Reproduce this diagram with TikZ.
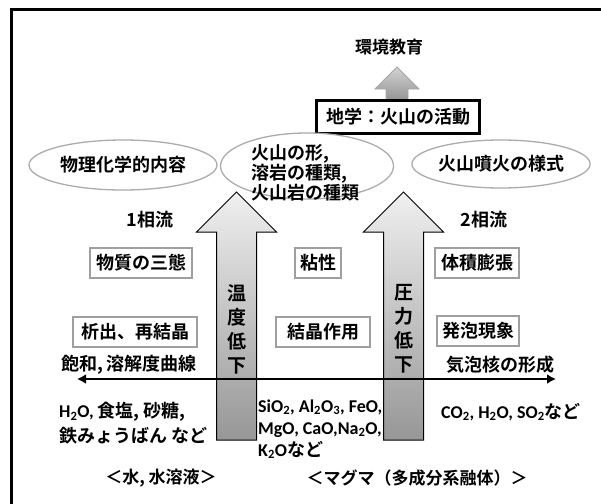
\documentclass[tikz,border=0pt]{standalone}
\usepackage{fontspec}
\setmainfont{Noto Sans CJK JP}[BoldFont={Noto Sans CJK JP Bold}]
\newfontfamily\chemf{Carlito}
\usetikzlibrary{shapes.geometric,arrows.meta}
\newcommand\jpbig{\bfseries\fontsize{18}{20}\selectfont}
\newcommand\jpmid{\bfseries\fontsize{17}{20}\selectfont}
\newcommand\jpvert{\bfseries\fontsize{19}{24}\selectfont}
\newcommand\chemsz{\bfseries\fontsize{18}{22}\selectfont}
\newcommand\ch[1]{{\chemf\bfseries #1}}
\begin{document}
\begin{tikzpicture}[x=1pt,y=-1pt,font=\jpbig,
  every node/.style={inner sep=0pt},
  bx/.style={draw=gray!75,line width=1.3pt,minimum height=30pt,fill=white},
  ell/.style={ellipse,draw=gray!65,line width=1.3pt,fill=white},
  thickbox/.style={draw=black,line width=2.8pt,fill=white,minimum width=163pt,minimum height=33pt},
  bigarrow/.style={draw=black,line width=1pt,top color=gray!12,bottom color=gray!82},
  toparrow/.style={draw=gray!70,line width=0.8pt,top color=gray!35,bottom color=gray!85},
  dblarrow/.style={line width=2.8pt,{Latex[length=9pt,width=10pt]}-{Latex[length=9pt,width=10pt]}}]
\useasboundingbox (0,0) rectangle (601,503);
\fill[white] (0,0) rectangle (601,503);
% frame
\draw[line width=3pt] (11,520) -- (11,9.5) -- (620,9.5);
% top
\node[font=\jpmid] (env) at (389,47) {環境教育};
\path[toparrow] (386,101) -- (386,89) -- (375,89) -- (397,67) -- (419,89) -- (408,89) -- (408,101) -- cycle;
\node[thickbox] (geo) at (398,117) {地学：火山の活動};
% ellipses
\node[ell,minimum width=188pt,minimum height=50pt] (e1) at (123,165) {物理化学的内容};
\node[ell,minimum width=173pt,minimum height=66pt] (e2) at (307,166) {};
\node[align=left,font=\jpbig] (e2t) at (305,173) {火山の形,\\溶岩の種類,\\火山岩の種類};
\node[ell,minimum width=178pt,minimum height=48pt] (e3) at (501,164) {火山噴火の様式};
% phase labels
\node (p1) at (150,220) {1相流};
\node (p2) at (484,220) {2相流};
% big arrows
\path[bigarrow] (216.5,440) -- (216.5,232) -- (196.5,232) -- (236.5,192) -- (276.5,232) -- (256.5,232) -- (256.5,440) -- cycle;
\path[bigarrow] (383.5,440) -- (383.5,232) -- (363.5,232) -- (403.5,192) -- (443.5,232) -- (423.5,232) -- (423.5,440) -- cycle;
\node[align=center,font=\jpvert] (t1) at (236.5,329) {温\\度\\低\\下};
\node[align=center,font=\jpvert] (t2) at (403.5,329) {圧\\力\\低\\下};
% boxes
\node[bx,minimum width=102pt] (b1) at (141,263) {物質の三態};
\node[bx,minimum width=46pt] (b2) at (318,263) {粘性};
\node[bx,minimum width=84pt] (b3) at (477,263) {体積膨張};
\node[bx,minimum width=124pt] (c1) at (135,332) {析出、再結晶};
\node[bx,minimum width=94pt] (c2) at (323,332) {結晶作用};
\node[bx,minimum width=82pt] (c3) at (478,331) {発泡現象};
% labels above line
\node (s1) at (129,365) {飽和, 溶解度曲線};
\node (s2) at (500,365) {気泡核の形成};
% horizontal double arrow
\coordinate (hl) at (77,379);
\coordinate (hr) at (556,379);
\draw[dblarrow] (hl) -- (hr);
% substances
\node[anchor=west] (w1) at (59,412) {\ch{H\textsubscript{2}O,} 食塩, 砂糖,};
\node[anchor=west] (w2) at (59,436) {鉄みょうばん など};
\node[anchor=west,align=left,font=\chemsz] (m) at (258,429) {\ch{SiO\textsubscript{2}, Al\textsubscript{2}O\textsubscript{3}, FeO,}\\\ch{MgO, CaO,Na\textsubscript{2}O,}\\\ch{K\textsubscript{2}O}など};
\node[anchor=west,font=\chemsz] (g) at (441,412) {\ch{CO\textsubscript{2}, H\textsubscript{2}O, SO\textsubscript{2}}など};
% bottom labels
\node[font=\jpmid] (l1) at (161,478) {＜水, 水溶液＞};
\node[font=\jpmid] (l2) at (417,478) {＜マグマ（多成分系融体）＞};
\end{tikzpicture}
\end{document}
